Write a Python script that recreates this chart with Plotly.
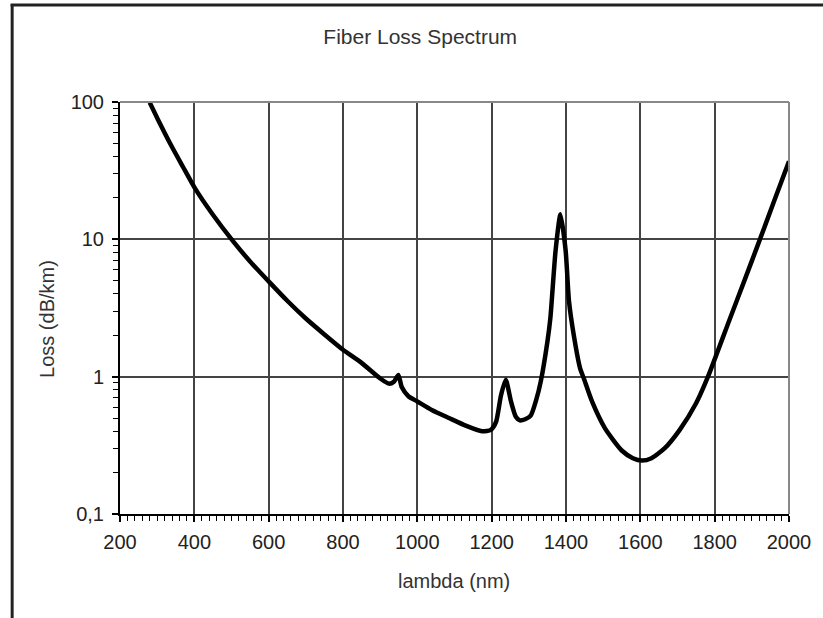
import plotly.graph_objects as go

# Data
wavelength_nm = [280, 300, 340, 370, 401, 450, 504, 550, 600, 650, 700, 750, 800, 850, 900,
                 924, 937, 949, 958, 976, 1000, 1040, 1085, 1130, 1174, 1198, 1212, 1225, 1238,
                 1252, 1265, 1276, 1290, 1305, 1320, 1332, 1350, 1358, 1372, 1385, 1399, 1408,
                 1421, 1438, 1448, 1470, 1505, 1550, 1580, 1604, 1630, 1665, 1706, 1750, 1782,
                 1840, 1880, 1920, 1960, 2000]
loss_db_km = [99, 76.6, 47, 33.5, 23.7, 15.1, 9.7, 6.9, 4.94, 3.57, 2.65, 2.03, 1.57, 1.26, 0.97,
              0.89, 0.92, 1.03, 0.84, 0.72, 0.66, 0.57, 0.50, 0.44, 0.40, 0.41, 0.47, 0.73, 0.95,
              0.66, 0.51, 0.48, 0.49, 0.52, 0.68, 0.92, 1.8, 2.68, 8.3, 15.2, 8.3, 3.55,
              2.0, 1.15, 0.97, 0.66, 0.42, 0.29, 0.255, 0.245, 0.255, 0.30, 0.41, 0.64, 1.0,
              2.6, 5.0, 9.7, 19, 37]

y_tickvals = [0.1, 1, 10, 100]
y_ticktext = ["0,1", "1", "10", "100"]
x_tickvals = [200, 400, 600, 800, 1000, 1200, 1400, 1600, 1800, 2000]

W, H = 823, 618
ML, MR, MT, MB = 120, 30, 102, 104
PW, PH = W - ML - MR, H - MT - MB

def px_to_paper_x(px):
    return (px - ML) / PW

def px_to_paper_y(py):
    return 1 - (py - MT) / PH

y_minor = [m * 10 ** e for e in (-1, 0, 1) for m in range(2, 10)]

fig = go.Figure()
fig.add_trace(go.Scatter(
    x=wavelength_nm, y=loss_db_km, mode="lines",
    line=dict(color="black", width=4.5, shape="spline", smoothing=0.6),
    showlegend=False, hoverinfo="skip",
))

font = "Liberation Sans, Arial, sans-serif"
fig.update_layout(
    width=W, height=H,
    margin=dict(l=ML, r=MR, t=MT, b=MB),
    paper_bgcolor="white", plot_bgcolor="white",
    font=dict(family=font, color="#222", size=20),
    title=dict(text="Fiber Loss Spectrum", x=px_to_paper_x(422), xref="paper",
               xanchor="center", y=1 - 37 / H, yanchor="middle",
               font=dict(size=21, color="#333", family=font)),
    xaxis=dict(
        range=[200, 2000], tickvals=x_tickvals,
        showgrid=True, gridcolor="#444", gridwidth=1.5,
        showline=True, linecolor="black", linewidth=2,
        ticks="outside", ticklen=6, tickcolor="black", tickwidth=1.5,
        ticklabelstandoff=3,
        minor=dict(dtick=20, tick0=200, ticks="outside", ticklen=5,
                   tickcolor="black", tickwidth=1.2, showgrid=False),
        tickfont=dict(size=20, color="#222"),
        zeroline=False,
    ),
    yaxis=dict(
        type="log", range=[-1, 2],
        tickvals=y_tickvals, ticktext=y_ticktext,
        showgrid=True, gridcolor="#444", gridwidth=1.5,
        showline=True, linecolor="black", linewidth=2,
        ticks="outside", ticklen=6, tickcolor="black", tickwidth=1.5,
        ticklabelstandoff=4,
        minor=dict(tickvals=y_minor, ticks="outside", ticklen=5,
                   tickcolor="black", tickwidth=1.2, showgrid=False),
        tickfont=dict(size=20, color="#222"),
        zeroline=False,
    ),
    annotations=[
        dict(text="lambda (nm)", xref="paper", yref="paper",
             x=px_to_paper_x(455.5), y=px_to_paper_y(581),
             xanchor="center", yanchor="middle", showarrow=False,
             font=dict(size=20, color="#333", family=font)),
        dict(text="Loss (dB/km)", xref="paper", yref="paper", textangle=-90,
             x=px_to_paper_x(46.5), y=px_to_paper_y(319),
             xanchor="center", yanchor="middle", showarrow=False,
             font=dict(size=20, color="#333", family=font)),
    ],
    shapes=[
        # plot-area top and right edges (gray)
        dict(type="line", xref="paper", yref="paper", x0=0, x1=1, y0=1, y1=1,
             line=dict(color="#888", width=2)),
        dict(type="line", xref="paper", yref="paper", x0=1, x1=1, y0=0, y1=1,
             line=dict(color="#888", width=2)),
        # outer frame (left and top)
        dict(type="line", xref="paper", yref="paper",
             x0=px_to_paper_x(11.5), x1=px_to_paper_x(11.5),
             y0=px_to_paper_y(H + 5), y1=px_to_paper_y(4),
             line=dict(color="#222", width=3)),
        dict(type="line", xref="paper", yref="paper",
             x0=px_to_paper_x(10), x1=px_to_paper_x(W + 5),
             y0=px_to_paper_y(5), y1=px_to_paper_y(5),
             line=dict(color="#222", width=3)),
    ],
)

fig.write_html("out.html", config={"displayModeBar": False},
               post_script="document.body.style.margin='0';")
